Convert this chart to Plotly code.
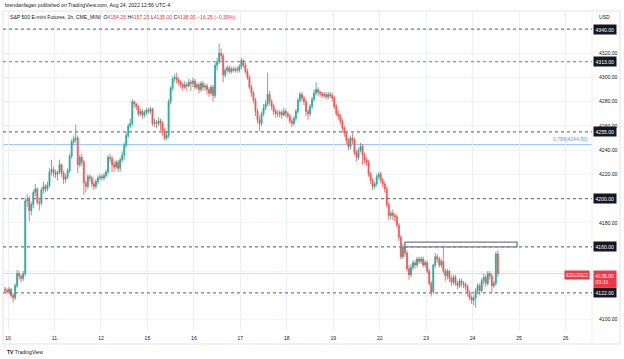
import plotly.graph_objects as go

# ---------------- data ----------------
day_labels = ["10", "11", "12", "15", "16", "17", "18", "19", "22", "23", "24", "25", "26"]
bars_per_day = 23          # CME globex hourly bars per session
first_tick_bar = 1.5       # the "10" tick falls between bar 1 and bar 2

opens = [
    4125, 4124,
    4123, 4125, 4120, 4118, 4128, 4138, 4136, 4134, 4138, 4198, 4199, 4190, 4195, 4205, 4208, 4197, 4196, 4207, 4210, 4208, 4211, 4222, 4224,
    4221, 4220, 4222, 4228, 4221, 4216, 4218, 4223, 4235, 4247, 4249, 4250, 4228, 4234, 4230, 4213, 4210, 4218, 4217, 4212, 4210, 4214, 4217,
    4218, 4217, 4219, 4222, 4234, 4233, 4228, 4226, 4230, 4225, 4232, 4236, 4244, 4252, 4260, 4262, 4280, 4278, 4276, 4270, 4272, 4269, 4271,
    4273, 4272, 4274, 4262, 4263, 4262, 4264, 4262, 4256, 4250, 4252, 4280, 4291, 4299, 4300, 4298, 4296, 4294, 4292, 4294, 4293, 4296, 4295,
    4297, 4292, 4294, 4290, 4295, 4292, 4293, 4290, 4287, 4292, 4285, 4310, 4313, 4320, 4318, 4302, 4306, 4308, 4305, 4307, 4306, 4307, 4306,
    4309, 4314, 4310, 4305, 4300, 4292, 4287, 4281, 4272, 4265, 4262, 4270, 4275, 4278, 4286, 4280, 4276, 4272, 4270, 4270, 4271, 4269, 4272,
    4270, 4268, 4264, 4262, 4266, 4272, 4281, 4286, 4283, 4280, 4272, 4270, 4276, 4282, 4287, 4290, 4288, 4287, 4285, 4286, 4284, 4286, 4285,
    4283, 4276, 4270, 4268, 4264, 4258, 4254, 4248, 4243, 4250, 4248, 4238, 4234, 4240, 4243, 4236, 4232, 4230, 4220, 4215, 4210, 4212, 4218,
    4220, 4215, 4212, 4208, 4195, 4186, 4188, 4186, 4185, 4178, 4168, 4152, 4160, 4155, 4142, 4137, 4143, 4147, 4145, 4150, 4148, 4150, 4145,
    4147, 4140, 4130, 4123, 4145, 4152, 4150, 4145, 4148, 4140, 4136, 4140, 4134, 4131, 4135, 4130, 4128, 4132, 4130, 4129, 4127, 4122, 4118,
    4116, 4118, 4124, 4128, 4124, 4132, 4135, 4130, 4138, 4136, 4128, 4130, 4154.25,
]
highs = [
    4127, 4126,
    4127, 4126, 4122, 4130, 4141, 4140, 4137, 4140, 4201, 4204, 4202, 4197, 4207, 4212, 4209, 4200, 4209, 4214, 4212, 4214, 4225, 4232, 4226,
    4224, 4223, 4232, 4229, 4223, 4220, 4225, 4237, 4249, 4252, 4261, 4252, 4236, 4237, 4232, 4215, 4220, 4220, 4219, 4214, 4216, 4219, 4220,
    4220, 4221, 4224, 4236, 4237, 4235, 4231, 4232, 4232, 4234, 4239, 4246, 4255, 4262, 4266, 4282, 4281, 4279, 4277, 4274, 4274, 4273, 4275,
    4275, 4276, 4275, 4266, 4265, 4267, 4266, 4264, 4258, 4255, 4282, 4293, 4301, 4303, 4304, 4300, 4298, 4296, 4297, 4296, 4299, 4298, 4300,
    4299, 4296, 4296, 4297, 4297, 4295, 4295, 4292, 4294, 4294, 4312, 4316, 4328, 4324, 4320, 4308, 4310, 4310, 4309, 4309, 4309, 4309, 4311,
    4316, 4315, 4312, 4307, 4302, 4294, 4289, 4283, 4274, 4268, 4272, 4278, 4281, 4304, 4289, 4282, 4278, 4274, 4273, 4273, 4273, 4275, 4274,
    4272, 4270, 4266, 4268, 4274, 4283, 4288, 4288, 4285, 4282, 4274, 4278, 4284, 4290, 4296, 4292, 4289, 4288, 4288, 4288, 4288, 4288, 4287,
    4285, 4278, 4273, 4270, 4266, 4260, 4256, 4250, 4252, 4254, 4250, 4240, 4242, 4246, 4245, 4238, 4234, 4232, 4222, 4217, 4214, 4220, 4222,
    4222, 4217, 4214, 4210, 4197, 4190, 4191, 4188, 4187, 4180, 4170, 4163, 4163, 4157, 4145, 4146, 4149, 4149, 4152, 4152, 4152, 4152, 4149,
    4149, 4142, 4132, 4146, 4155, 4154, 4152, 4150, 4162, 4142, 4142, 4141, 4136, 4137, 4137, 4132, 4134, 4134, 4132, 4131, 4129, 4124, 4120,
    4120, 4126, 4130, 4130, 4134, 4138, 4137, 4140, 4140, 4138, 4132, 4156, 4157.25,
]
lows = [
    4122, 4121,
    4121, 4118, 4114, 4116, 4126, 4133, 4131, 4132, 4136, 4193, 4181, 4186, 4192, 4202, 4195, 4190, 4194, 4204, 4205, 4206, 4209, 4219, 4218,
    4217, 4215, 4220, 4218, 4212, 4213, 4216, 4221, 4233, 4244, 4246, 4221, 4226, 4227, 4203, 4205, 4208, 4214, 4209, 4207, 4208, 4212, 4215,
    4215, 4215, 4217, 4220, 4230, 4222, 4222, 4224, 4222, 4222, 4230, 4232, 4242, 4250, 4258, 4260, 4275, 4273, 4268, 4268, 4266, 4267, 4269,
    4270, 4270, 4260, 4259, 4258, 4260, 4256, 4252, 4248, 4248, 4250, 4278, 4289, 4296, 4295, 4293, 4291, 4289, 4290, 4289, 4292, 4289, 4292,
    4290, 4290, 4287, 4288, 4289, 4289, 4286, 4284, 4285, 4280, 4283, 4306, 4311, 4314, 4296, 4300, 4304, 4303, 4303, 4304, 4304, 4304, 4304,
    4307, 4308, 4303, 4298, 4290, 4284, 4279, 4268, 4262, 4256, 4260, 4268, 4273, 4276, 4277, 4273, 4269, 4267, 4267, 4267, 4266, 4268, 4267,
    4266, 4262, 4259, 4260, 4264, 4270, 4279, 4280, 4277, 4268, 4265, 4268, 4274, 4280, 4285, 4285, 4284, 4283, 4283, 4282, 4282, 4283, 4280,
    4274, 4268, 4265, 4261, 4255, 4251, 4245, 4240, 4241, 4245, 4236, 4231, 4232, 4238, 4228, 4229, 4227, 4218, 4212, 4207, 4208, 4210, 4216,
    4213, 4209, 4205, 4193, 4182, 4183, 4182, 4181, 4176, 4165, 4150, 4150, 4152, 4140, 4133, 4135, 4141, 4142, 4143, 4146, 4146, 4143, 4143,
    4138, 4128, 4119, 4121, 4143, 4147, 4143, 4143, 4138, 4132, 4133, 4131, 4128, 4129, 4128, 4125, 4126, 4127, 4126, 4124, 4119, 4116, 4113,
    4112, 4110, 4121, 4120, 4122, 4129, 4127, 4128, 4133, 4122, 4126, 4128, 4135,
]
closes = [
    4124, 4123,
    4125, 4120, 4118, 4128, 4138, 4136, 4134, 4138, 4198, 4199, 4190, 4195, 4205, 4208, 4197, 4196, 4207, 4210, 4208, 4211, 4222, 4224, 4221,
    4220, 4222, 4228, 4221, 4216, 4218, 4223, 4235, 4247, 4249, 4250, 4228, 4234, 4230, 4213, 4210, 4218, 4217, 4212, 4210, 4214, 4217, 4218,
    4217, 4219, 4222, 4234, 4233, 4228, 4226, 4230, 4225, 4232, 4236, 4244, 4252, 4260, 4262, 4280, 4278, 4276, 4270, 4272, 4269, 4271, 4273,
    4272, 4274, 4262, 4263, 4262, 4264, 4262, 4256, 4250, 4252, 4280, 4291, 4299, 4300, 4298, 4296, 4294, 4292, 4294, 4293, 4296, 4295, 4297,
    4292, 4294, 4290, 4295, 4292, 4293, 4290, 4287, 4292, 4285, 4310, 4313, 4320, 4318, 4302, 4306, 4308, 4305, 4307, 4306, 4307, 4306, 4309,
    4314, 4310, 4305, 4300, 4292, 4287, 4281, 4272, 4265, 4262, 4270, 4275, 4278, 4286, 4280, 4276, 4272, 4270, 4270, 4271, 4269, 4272, 4270,
    4268, 4264, 4262, 4266, 4272, 4281, 4286, 4283, 4280, 4272, 4270, 4276, 4282, 4287, 4290, 4288, 4287, 4285, 4286, 4284, 4286, 4285, 4283,
    4276, 4270, 4268, 4264, 4258, 4254, 4248, 4243, 4250, 4248, 4238, 4234, 4240, 4243, 4236, 4232, 4230, 4220, 4215, 4210, 4212, 4218, 4220,
    4215, 4212, 4208, 4195, 4186, 4188, 4186, 4185, 4178, 4168, 4152, 4160, 4155, 4142, 4137, 4143, 4147, 4145, 4150, 4148, 4150, 4145, 4147,
    4140, 4130, 4123, 4145, 4152, 4150, 4145, 4148, 4140, 4136, 4140, 4134, 4131, 4135, 4130, 4128, 4132, 4130, 4129, 4127, 4122, 4118, 4116,
    4118, 4124, 4128, 4124, 4132, 4135, 4130, 4138, 4136, 4128, 4130, 4154.25, 4138,
]

levels = [4340, 4313, 4255, 4200, 4160, 4122]
fib_level = 4244.5
fib_text = "0.786(4244.50)"
last_price = 4138.0
countdown = "03:31"
symbol = "ESU2022"
zone_bar_start, zone_bar_end = 198, 253.5
zone_low, zone_high = 4160, 4164
y_ticks = list(range(4100, 4341, 20))
y_ticks_hidden = [4340, 4200, 4160, 4140, 4120]   # covered by the price boxes

# ---------------- layout helpers ----------------
W, H = 624, 359
ML, MR, MT, MB = 3, 32, 11, 29
PW, PH = W - ML - MR, H - MT - MB


def pxx(x):
    return (x - ML) / PW


def pxy(y):
    return (H - MB - y) / PH


UP, DOWN = "#26a69a", "#ef5350"
TXT = "#131722"
FONT = "Liberation Sans, Arial, sans-serif"
fs = 5.1

n = len(closes)
xs = list(range(n))

fig = go.Figure()
fig.add_trace(go.Candlestick(
    x=xs, open=opens, high=highs, low=lows, close=closes,
    increasing=dict(line=dict(color=UP, width=0.8), fillcolor=UP),
    decreasing=dict(line=dict(color=DOWN, width=0.8), fillcolor=DOWN),
    whiskerwidth=0, showlegend=False, hoverinfo="skip",
))

shapes = []
for lv in levels:
    shapes.append(dict(type="line", xref="paper", x0=0, x1=1, yref="y", y0=lv, y1=lv,
                       line=dict(color="#787b86", width=1.2, dash="3px,3px"), layer="above"))
shapes.append(dict(type="line", xref="paper", x0=0, x1=1, yref="y", y0=fib_level, y1=fib_level,
                   line=dict(color="#90bff9", width=1), layer="below"))
shapes.append(dict(type="line", xref="paper", x0=0, x1=1, yref="y", y0=last_price, y1=last_price,
                   line=dict(color="rgba(242,54,69,0.25)", width=1), layer="below"))
shapes.append(dict(type="rect", xref="x", yref="y", x0=zone_bar_start, x1=zone_bar_end,
                   y0=zone_low, y1=zone_high, fillcolor="rgba(255,255,255,0.6)",
                   line=dict(color="#787b86", width=1.3), layer="above"))
shapes.append(dict(type="rect", xref="paper", yref="paper", x0=pxx(3), x1=pxx(620), y0=pxy(11), y1=pxy(344),
                   line=dict(color="#e0e3eb", width=1), layer="below"))
shapes.append(dict(type="line", xref="paper", yref="paper", x0=1, x1=1, y0=pxy(11), y1=pxy(344),
                   line=dict(color="#eef0f4", width=1), layer="below"))

ann = []
ann.append(dict(xref="paper", yref="paper", x=pxx(3), y=pxy(5), xanchor="left", yanchor="middle",
                text="brendanfagan published on TradingView.com, Aug 24, 2022 12:56 UTC-4",
                showarrow=False, font=dict(size=fs, color=TXT, family=FONT)))
red = "#f23645"
legend = ("S&P 500 E-mini Futures, 1h, CME_MINI  "
          f"O<span style='color:{red}'>4154.25</span> H<span style='color:{red}'>4157.25</span> "
          f"L<span style='color:{red}'>4135.00</span> C<span style='color:{red}'>4138.00</span> "
          f"<span style='color:{red}'>\u221216.25 (\u22120.39%)</span>")
ann.append(dict(xref="paper", yref="paper", x=pxx(8), y=pxy(17), xanchor="left", yanchor="middle",
                text=legend, showarrow=False, font=dict(size=fs, color=TXT, family=FONT)))
ann.append(dict(xref="paper", yref="paper", x=pxx(597), y=pxy(17), xanchor="left", yanchor="middle",
                text="USD", showarrow=False, font=dict(size=fs, color=TXT, family=FONT)))
for lv in levels:
    ann.append(dict(xref="paper", yref="y", x=1, y=lv, xanchor="left", yanchor="middle", xshift=1,
                    text=f"{lv:.2f}", showarrow=False, bgcolor=TXT, borderpad=1.5,
                    font=dict(size=fs, color="white", family=FONT)))
ann.append(dict(xref="paper", yref="y", x=pxx(590), y=fib_level, xanchor="right", yanchor="bottom", yshift=1,
                text=fib_text, showarrow=False, font=dict(size=fs, color="#5b9cf6", family=FONT)))
ann.append(dict(xref="paper", yref="y", x=1, y=last_price, xanchor="left", yanchor="top", xshift=1, yshift=4,
                text=f"{last_price:.2f}<br>{countdown}", showarrow=False, bgcolor=red, borderpad=1.5,
                align="left", font=dict(size=fs, color="white", family=FONT)))
ann.append(dict(xref="paper", yref="y", x=pxx(590), y=last_price, xanchor="right", yanchor="middle", yshift=-1,
                text=symbol, showarrow=False, bgcolor=red, borderpad=1.2,
                font=dict(size=fs, color="white", family=FONT)))
ann.append(dict(xref="paper", yref="paper", x=pxx(5), y=pxy(352), xanchor="left", yanchor="middle",
                text="<b>TV</b> TradingView", showarrow=False, font=dict(size=fs, color=TXT, family=FONT)))

tickvals_x = [first_tick_bar + bars_per_day * k for k in range(len(day_labels))]
ticktext_y = ["" if v in y_ticks_hidden else f"{v:.2f}" for v in y_ticks]

fig.update_layout(
    width=W, height=H, margin=dict(l=ML, r=MR, t=MT, b=MB),
    paper_bgcolor="white", plot_bgcolor="white",
    shapes=shapes, annotations=ann, showlegend=False,
    font=dict(family=FONT, size=fs, color=TXT),
    xaxis=dict(range=[-1, 290.6], tickvals=tickvals_x, ticktext=day_labels,
               showgrid=True, gridcolor="#eceff5", gridwidth=1, zeroline=False,
               showline=False, ticks="", tickfont=dict(size=fs, color=TXT),
               rangeslider=dict(visible=False), fixedrange=True, ticklabelstandoff=4),
    yaxis=dict(range=[4091.4, 4354.9], side="right", tickvals=y_ticks,
               ticktext=ticktext_y, showgrid=True, gridcolor="#f0f3fa",
               zeroline=False, showline=False, ticks="", tickfont=dict(size=fs, color=TXT),
               ticklabelstandoff=6, fixedrange=True),
)

fig.write_html("out.html", config={"displayModeBar": False},
               post_script="document.body.style.margin='0';document.body.style.overflow='hidden';")
